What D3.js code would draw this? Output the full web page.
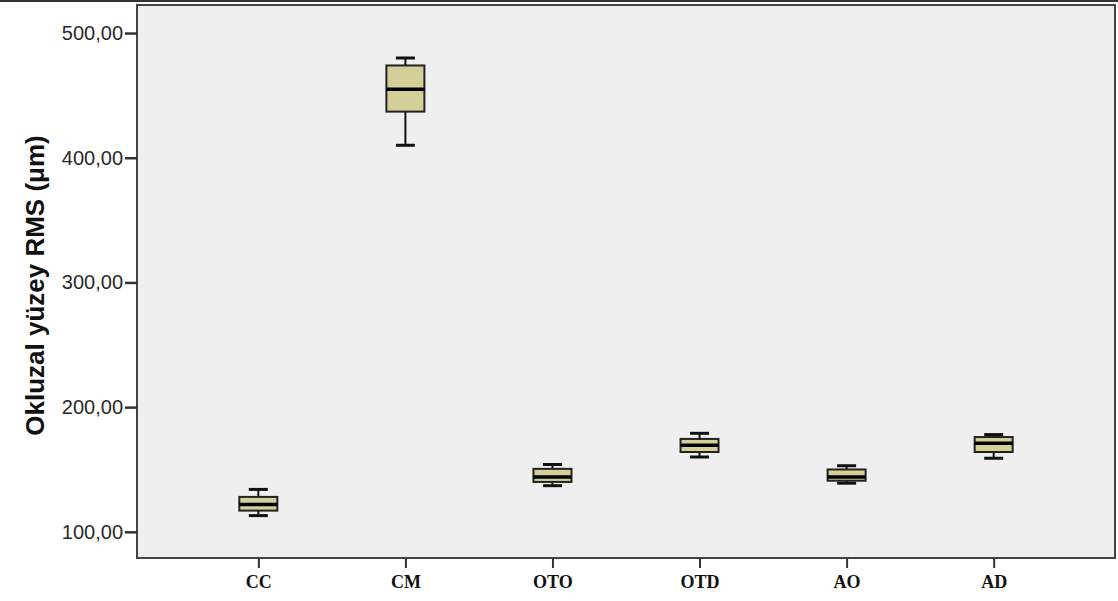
<!DOCTYPE html>
<html>
<head>
<meta charset="utf-8">
<script src="https://cdn.jsdelivr.net/npm/d3@7"></script>
<style>
  html, body { margin: 0; padding: 0; background: #fff; }
</style>
</head>
<body>
<div id="vis-display"></div>
<script>
// Box plot: occlusal surface RMS (µm) per group.

const GROUPS  = ["CC", "CM", "OTO", "OTD", "AO", "AD"];
const MINS    = [113, 410, 137, 160, 139, 159];
const Q1S     = [117, 437, 140, 164, 141, 164];
const MEDIANS = [122, 455, 144, 169.5, 144, 171];
const Q3S     = [128, 474, 150.5, 174.5, 150, 176];
const MAXS    = [134, 480, 154, 179, 153, 178];
const Y_TICKS = [100, 200, 300, 400, 500];

const W = 1118, H = 601;
const plot = { left: 137, right: 1115, top: 5, bottom: 558 };

const BOX_FILL = "#d4cf98";

const data = GROUPS.map((g, i) => ({
  group: g, min: MINS[i], q1: Q1S[i], median: MEDIANS[i], q3: Q3S[i], max: MAXS[i],
}));

const svg = d3.select("#vis-display").append("svg")
  .attr("width", W)
  .attr("height", H);

// ── Scales ───────────────────────────────────────────────────────────────
const x = d3.scalePoint()
  .domain(GROUPS)
  .range([plot.left, plot.right])
  .padding(0.825);

const y = d3.scaleLinear()
  .domain([79, 522.5])
  .range([plot.bottom, plot.top]);

// top edge line (cropped frame of original figure)
svg.append("line")
  .attr("x1", 0).attr("x2", W)
  .attr("y1", 1).attr("y2", 1)
  .attr("stroke", "#333").attr("stroke-width", 2);

// ── Plot background & frame ──────────────────────────────────────────────
svg.append("rect")
  .attr("x", plot.left).attr("y", plot.top)
  .attr("width", plot.right - plot.left)
  .attr("height", plot.bottom - plot.top)
  .attr("fill", "#efefef")
  .attr("stroke", "#444")
  .attr("stroke-width", 2);

// ── Axes ─────────────────────────────────────────────────────────────────
svg.append("g")
  .attr("transform", `translate(${plot.left},0)`)
  .call(d3.axisLeft(y)
    .tickValues(Y_TICKS)
    .tickSize(12)
    .tickPadding(2)
    .tickFormat(d => d3.format(".2f")(d).replace(".", ",")))
  .call(ax => ax.select(".domain").remove())
  .call(ax => ax.selectAll(".tick line").attr("stroke", "#333").attr("stroke-width", 2.5))
  .selectAll("text")
    .style("font-family", "Arial, 'Liberation Sans', sans-serif")
    .style("font-size", "20px")
    .style("fill", "#2a2a2a");

svg.append("g")
  .attr("transform", `translate(0,${plot.bottom})`)
  .call(d3.axisBottom(x)
    .tickSize(10)
    .tickPadding(7))
  .call(ax => ax.select(".domain").remove())
  .call(ax => ax.selectAll(".tick line").attr("stroke", "#333").attr("stroke-width", 2))
  .selectAll("text")
    .style("font-family", "'Times New Roman', 'Liberation Serif', serif")
    .style("font-weight", "bold")
    .style("font-size", "18px")
    .style("fill", "#111");

svg.append("text")
  .attr("transform", `translate(44,${(plot.top + plot.bottom) / 2 + 4}) rotate(-90)`)
  .attr("text-anchor", "middle")
  .style("font-family", "Arial, 'Liberation Sans', sans-serif")
  .style("font-weight", "bold")
  .style("font-size", "26px")
  .style("fill", "#111")
  .text("Okluzal yüzey RMS (μm)");

// ── Boxes ────────────────────────────────────────────────────────────────
const BOX_W = 38, CAP_W = 19;

const boxes = svg.append("g")
  .selectAll("g")
  .data(data)
  .join("g")
    .attr("transform", d => `translate(${x(d.group)},0)`);

boxes.append("line")
  .attr("x1", 0).attr("x2", 0)
  .attr("y1", d => y(d.max)).attr("y2", d => y(d.min))
  .attr("stroke", "#111").attr("stroke-width", 2);

boxes.append("line")
  .attr("x1", -CAP_W / 2).attr("x2", CAP_W / 2)
  .attr("y1", d => y(d.max)).attr("y2", d => y(d.max))
  .attr("stroke", "#111").attr("stroke-width", 3);

boxes.append("line")
  .attr("x1", -CAP_W / 2).attr("x2", CAP_W / 2)
  .attr("y1", d => y(d.min)).attr("y2", d => y(d.min))
  .attr("stroke", "#111").attr("stroke-width", 3);

boxes.append("rect")
  .attr("x", -BOX_W / 2)
  .attr("width", BOX_W)
  .attr("y", d => y(d.q3))
  .attr("height", d => y(d.q1) - y(d.q3))
  .attr("fill", BOX_FILL)
  .attr("stroke", "#222")
  .attr("stroke-width", 2);

boxes.append("line")
  .attr("x1", -BOX_W / 2).attr("x2", BOX_W / 2)
  .attr("y1", d => y(d.median)).attr("y2", d => y(d.median))
  .attr("stroke", "#000").attr("stroke-width", 3.5);
</script>
</body>
</html>
